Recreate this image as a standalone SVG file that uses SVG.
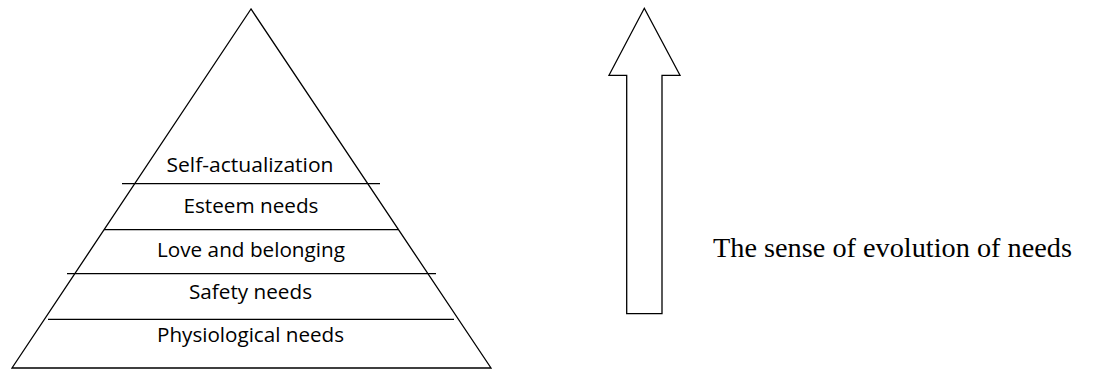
<svg xmlns="http://www.w3.org/2000/svg" width="1100" height="369" viewBox="0 0 1100 369">
<style>
.shape{fill:none;stroke:#000;stroke-width:1.3}
.lvl{font-family:"Open Sans","Noto Sans",sans-serif;font-size:20px;fill:#000;text-anchor:middle}
.cap{font-family:"Liberation Serif","Times New Roman",serif;font-size:28px;fill:#000}
</style>
<rect width="1100" height="369" fill="#fff"/>
<g id="pyramid">
<polygon class="shape" points="251,9 12,368 491,368"/>
<line class="shape" x1="122" y1="183.7" x2="380" y2="183.7"/>
<line class="shape" x1="104" y1="229.7" x2="398" y2="229.7"/>
<line class="shape" x1="67" y1="273.7" x2="436" y2="273.7"/>
<line class="shape" x1="48" y1="319.3" x2="454" y2="319.3"/>
</g>
<g id="self-actualization"><text class="lvl" x="250" y="172" textLength="167" lengthAdjust="spacingAndGlyphs">Self-actualization</text></g>
<g id="esteem"><text class="lvl" x="251" y="213" textLength="135" lengthAdjust="spacingAndGlyphs">Esteem needs</text></g>
<g id="love"><text class="lvl" x="251" y="256.5" textLength="188" lengthAdjust="spacingAndGlyphs">Love and belonging</text></g>
<g id="safety"><text class="lvl" x="250.5" y="298.5" textLength="123" lengthAdjust="spacingAndGlyphs">Safety needs</text></g>
<g id="physiological"><text class="lvl" x="250.5" y="342" textLength="187" lengthAdjust="spacingAndGlyphs">Physiological needs</text></g>
<g id="arrow">
<polygon class="shape" points="644.3,8.3 680,75.3 662,75.3 662,313.7 626.7,313.7 626.7,75.3 609,75.3"/>
</g>
<g id="caption"><text class="cap" x="713" y="256.7" textLength="359" lengthAdjust="spacingAndGlyphs">The sense of evolution of needs</text></g>
</svg>
